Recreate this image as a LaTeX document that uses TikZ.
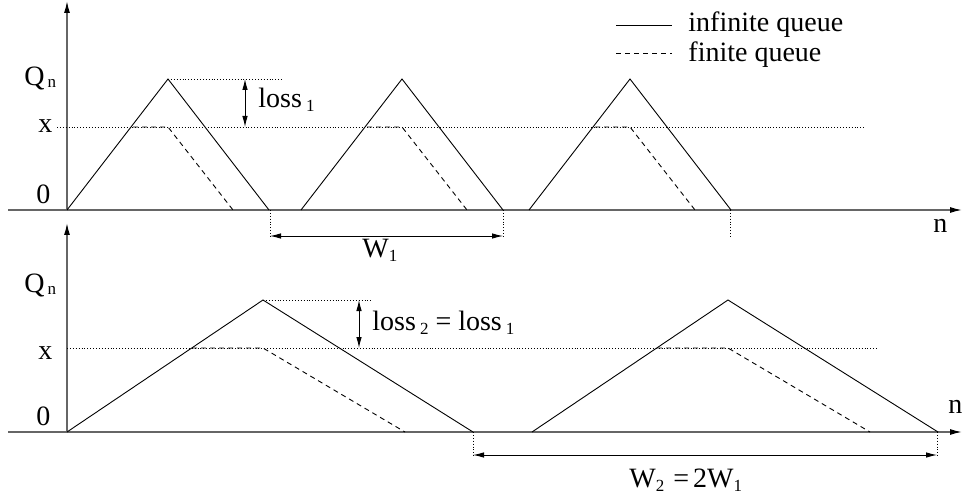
\documentclass[tikz,border=0pt]{standalone}
\usepackage{fontspec}
\setmainfont{Liberation Serif}
\usetikzlibrary{arrows.meta}
\newcommand\lowidx[1]{\raisebox{-4pt}{\fontsize{17}{17}\selectfont #1}}
\begin{document}
\begin{tikzpicture}[x=1pt,y=-1pt,line width=0.9pt,
  every node/.style={font=\fontsize{28}{34}\selectfont,inner sep=0pt,anchor=base west},
  axis/.style={line width=1.4pt,black!60,-{Latex[length=12pt,width=6pt,color=black]}},
  finq/.style={dash pattern=on 5pt off 4pt},
  guide/.style={dotted},
  gap/.style={{Latex[length=11pt,width=5.5pt]}-{Latex[length=11pt,width=5.5pt]}}]
  \useasboundingbox (0,0) rectangle (964,497);
  \coordinate (o1) at (67,210); \coordinate (o2) at (67,432);
  \draw[axis] (8,210) -- (962,210);
  \draw[axis] (o1) -- (67,1);
  \draw[axis] (8,432) -- (962,432);
  \draw[axis] (o2) -- (67,223);
  \draw[guide] (57,127) -- (866,127);
  \draw[guide] (67,348) -- (877,348);
  \foreach \s in {67,301,529} {
    \draw (\s,210) -- (\s+101,79) -- (\s+202,210);
    \draw[finq] (\s+66,127) -- (\s+101,127) -- (\s+166,210);
  }
  \foreach \s in {67,532} {
    \draw (\s,432) -- (\s+196,300) -- (\s+406,432);
    \draw[finq] (\s+125,348) -- (\s+196,348) -- (\s+338,432);
  }
  \node (qtop) at (24,86) {Q\kern3pt\raisebox{2pt}{\lowidx{n}}};
  \node (xtop) at (38,133) {x};
  \node (ztop) at (36,204) {0};
  \node (ntop) at (933,233) {n};
  \node (qbot) at (24,292) {Q\kern3pt\raisebox{2pt}{\lowidx{n}}};
  \node (xbot) at (38,359) {x};
  \node (zbot) at (36,425) {0};
  \node (nbot) at (948,413) {n};
  \coordinate (p1) at (168,79); \coordinate (p1x) at (245,127);
  \draw[guide] (p1) -- (283,79);
  \draw[gap] (245,79) -- (p1x);
  \node (losstop) at (258,108) {loss\kern4pt\lowidx{1}};
  \coordinate (w1a) at (270,236); \coordinate (w1b) at (503,236);
  \draw[guide] (270,210) -- (270,238);
  \draw[guide] (503,210) -- (503,238);
  \draw[guide] (730,210) -- (730,238);
  \draw[gap] (w1a) -- (w1b);
  \node (wone) at (362,258) {W\lowidx{1}};
  \coordinate (p2) at (263,300); \coordinate (p2x) at (359,348);
  \draw[guide] (p2) -- (372,300);
  \draw[gap] (359,300) -- (p2x);
  \node (lossbot) at (372,330) {loss\kern4pt\lowidx{2} = loss\kern4pt\lowidx{1}};
  \coordinate (w2a) at (473,455); \coordinate (w2b) at (937,455);
  \draw[guide] (473,432) -- (473,457);
  \draw[guide] (937,432) -- (937,457);
  \draw[gap] (w2a) -- (w2b);
  \node (wtwo) at (629,487) {W\lowidx{2}\hspace{9pt}=\hspace{4pt}2W\lowidx{1}};
  \node (leginf) at (688,32) {infinite queue};
  \node (legfin) at (688,62) {finite queue};
  \draw (616,25) -- (672,25);
  \draw[finq] (616,53) -- (672,53);
\end{tikzpicture}
\end{document}
